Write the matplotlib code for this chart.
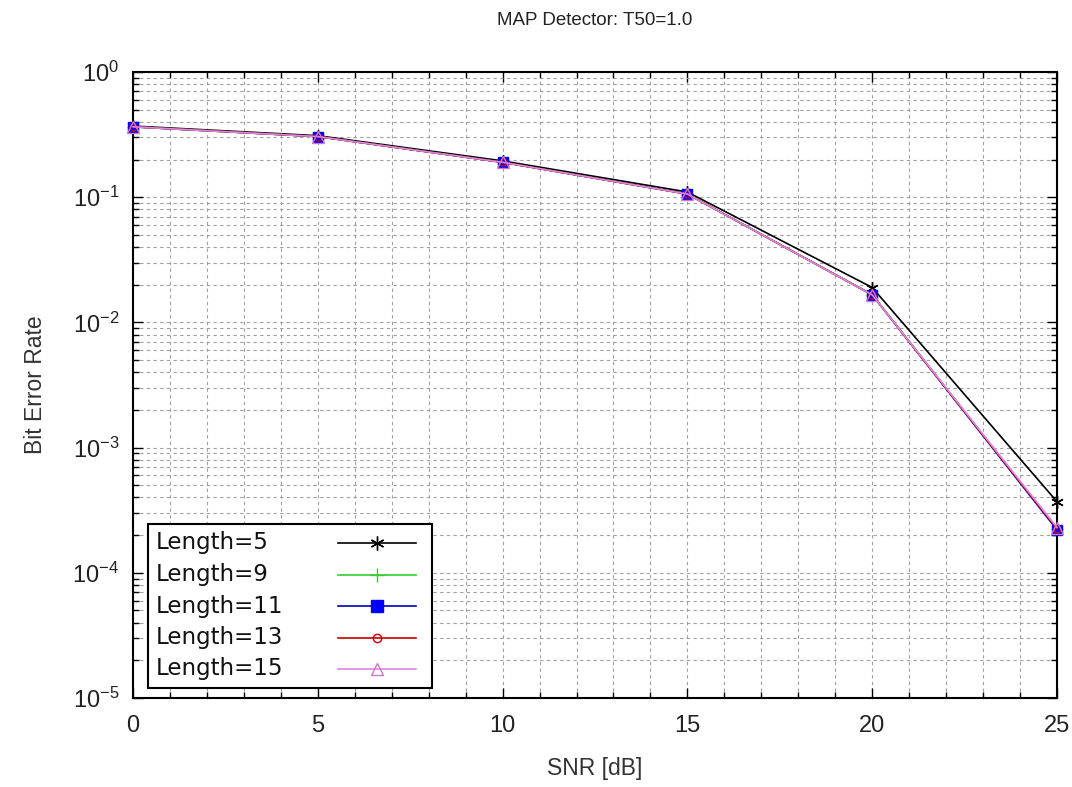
import matplotlib
matplotlib.use("Agg")
import matplotlib.pyplot as plt
from matplotlib.lines import Line2D
from matplotlib.patches import Rectangle
from matplotlib.ticker import LogLocator, MultipleLocator, NullFormatter

plt.rcParams['font.family'] = ['Liberation Sans', 'DejaVu Sans']

snr = [0, 5, 10, 15, 20, 25]
labels = ["Length=5", "Length=9", "Length=11", "Length=13", "Length=15"]
ber_len5 = [0.37, 0.31, 0.195, 0.110, 0.0190, 3.7e-4]
ber_len9 = [0.365, 0.305, 0.190, 0.106, 0.0167, 2.25e-4]
ber_len11 = [0.365, 0.305, 0.190, 0.106, 0.0166, 2.2e-4]
ber_len13 = [0.365, 0.305, 0.190, 0.106, 0.0166, 2.25e-4]
ber_len15 = [0.365, 0.305, 0.190, 0.106, 0.0166, 2.3e-4]

series = [ber_len5, ber_len9, ber_len11, ber_len13, ber_len15]
colors = ['black', '#33cc33', '#0000bb', '#cc0000', '#dd88dd']
mec = ['black', '#33cc33', '#0000ff', '#cc0000', '#cc77cc']
markers = [(6, 2, 0), '+', 's', 'o', '^']
mfc = ['black', '#33cc33', '#0000ff', 'none', 'none']
msizes = [9, 9, 7, 5, 8]

W, H = 1072, 787
x0, x1, y0, y1 = 133, 1057, 72, 698
fig = plt.figure(figsize=(W/100, H/100), dpi=100)
ax = fig.add_axes([x0/W, 1-y1/H, (x1-x0)/W, (y1-y0)/H])

for y, c, ec, m, fc, ms, lab in zip(series, colors, mec, markers, mfc, msizes, labels):
    ax.plot(snr, y, color=c, marker=m, markerfacecolor=fc, markeredgecolor=ec,
            markersize=ms, linewidth=1.2, label=lab, clip_on=False, zorder=3)

ax.set_yscale('log')
ax.set_xlim(0, 25)
ax.set_ylim(1e-5, 1)
ax.xaxis.set_major_locator(MultipleLocator(5))
ax.xaxis.set_minor_locator(MultipleLocator(1))
ax.yaxis.set_major_locator(LogLocator(base=10, numticks=10))
ax.yaxis.set_minor_locator(LogLocator(base=10, subs=range(2, 10), numticks=20))
ax.yaxis.set_minor_formatter(NullFormatter())

ax.grid(True, which='both', linestyle=(0, (3, 3)), color='#a0a0a0', linewidth=0.8)
ax.tick_params(which='both', direction='in', top=True, right=True, labelsize=17,
               labelcolor='#222222')
ax.tick_params(axis='x', pad=12)
ax.tick_params(axis='y', pad=10)
ax.tick_params(which='major', length=7, width=1)
ax.tick_params(which='minor', length=4, width=1)
for s in ax.spines.values():
    s.set_linewidth(1.5)
    s.set_color('black')

ax.set_xlabel('SNR [dB]', fontsize=16.5, color='#333333', labelpad=15)
ax.set_ylabel('Bit Error Rate', fontsize=16.5, color='#333333', labelpad=18)
ax.set_title('MAP Detector: T50=1.0', fontsize=13.5, color='#222222', pad=34)

# Legend (drawn manually: labels left, samples right, as in the reference)
def axc(px, py):
    return ((px - x0) / (x1 - x0), (y1 - py) / (y1 - y0))

bx0, by0 = axc(148, 688)
bx1, by1 = axc(432, 524)
ax.add_patch(Rectangle((bx0, by0), bx1 - bx0, by1 - by0, transform=ax.transAxes,
                       facecolor='white', edgecolor='black', linewidth=1.5,
                       zorder=5, clip_on=False))
row_y = [543, 574.5, 606, 637.5, 669]
for i, lab in enumerate(labels):
    tx, ty = axc(156, row_y[i])
    ax.text(tx, ty, lab, transform=ax.transAxes, fontsize=16.5, va='center', ha='left',
            family=['DejaVu Sans'], color='#111111', zorder=6)
    lx0, _ = axc(338, 0)
    lx1, _ = axc(416, 0)
    lm, _ = axc(377, 0)
    ln = Line2D([lx0, lm, lx1], [ty, ty, ty], transform=ax.transAxes,
                color=colors[i], marker=markers[i], markevery=[1],
                markerfacecolor=mfc[i], markeredgecolor=mec[i],
                markersize=msizes[i] + 1, linewidth=1.2, zorder=6, clip_on=False)
    ax.add_line(ln)

fig.savefig('out.png', dpi=100)
